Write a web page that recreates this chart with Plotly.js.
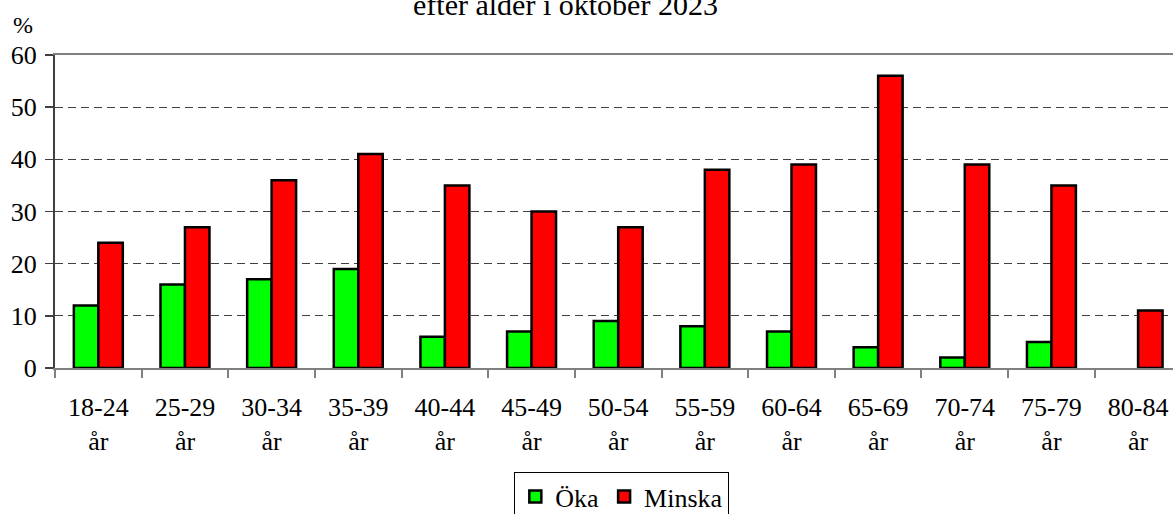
<!DOCTYPE html>
<html>
<head>
<meta charset="utf-8">
<script src="https://cdn.plot.ly/plotly-3.0.1.min.js"></script>
<style>html,body{margin:0;padding:0;background:#fff;}#chart{width:1173px;height:514px;}</style>
</head>
<body>
<div id="chart"></div>
<script>
const categories = ["18-24<br>år","25-29<br>år","30-34<br>år","35-39<br>år","40-44<br>år","45-49<br>år","50-54<br>år","55-59<br>år","60-64<br>år","65-69<br>år","70-74<br>år","75-79<br>år","80-84<br>år"];
const oka = [12, 16, 17, 19, 6, 7, 9, 8, 7, 4, 2, 5, null];
const minska = [24, 27, 36, 41, 35, 30, 27, 38, 39, 56, 39, 35, 11];
const seriesNames = ["Öka", "Minska"];
const titleText = "efter ålder i oktober 2023";
const unitLabel = "%";

const FONT = "Liberation Serif";

const traces = [
  {type:"bar", name:seriesNames[0], x:categories, y:oka,
   marker:{color:"#00ff00", line:{color:"#000", width:2.5}}},
  {type:"bar", name:seriesNames[1], x:categories, y:minska,
   marker:{color:"#ff0000", line:{color:"#000", width:2.5}}}
];

const layout = {
  width:1173, height:514,
  margin:{l:55, r:0, t:55, b:146, pad:0, autoexpand:false},
  paper_bgcolor:"#fff", plot_bgcolor:"#fff",
  font:{family:FONT, size:26, color:"#000"},
  barmode:"group", bargap:0.435, bargroupgap:0,
  showlegend:true,
  legend:{orientation:"h", xref:"paper", x:0.507, xanchor:"center",
          yref:"container", y:1-472/514, yanchor:"top",
          bordercolor:"#000", borderwidth:1, font:{family:FONT, size:26, color:"#000"},
          itemwidth:30, tracegroupgap:0},
  xaxis:{type:"category", range:[-0.5, 12.403], tickson:"boundaries", automargin:false,
         ticks:"outside", ticklen:8, tickcolor:"#808080", tickwidth:2, ticklabelstandoff:15,
         showline:true, linecolor:"#808080", linewidth:2, mirror:true,
         showgrid:false, tickfont:{family:FONT, size:26, color:"#000"}, fixedrange:true},
  yaxis:{range:[0,60], dtick:10, ticks:"outside", ticklen:8, tickcolor:"#404040", tickwidth:1.5,
         showline:true, linecolor:"#404040", linewidth:2, automargin:false, ticklabelstandoff:3,
         showgrid:true, gridcolor:"#404040", gridwidth:1, griddash:"8px,5px",
         zeroline:false, tickfont:{family:FONT, size:26, color:"#000"}, fixedrange:true},
  annotations:[
    {text:titleText, xref:"paper", yref:"paper", x:(565-55)/1118, y:(368-4)/313,
     xanchor:"center", yanchor:"middle", showarrow:false, font:{family:FONT, size:30, color:"#000"}},
    {text:unitLabel, xref:"paper", yref:"paper", x:(22.5-55)/1118, y:(368-25)/313,
     xanchor:"center", yanchor:"middle", showarrow:false, font:{family:FONT, size:24, color:"#000"}}
  ]
};

Plotly.newPlot("chart", traces, layout, {displayModeBar:false, staticPlot:true});
</script>
</body>
</html>
